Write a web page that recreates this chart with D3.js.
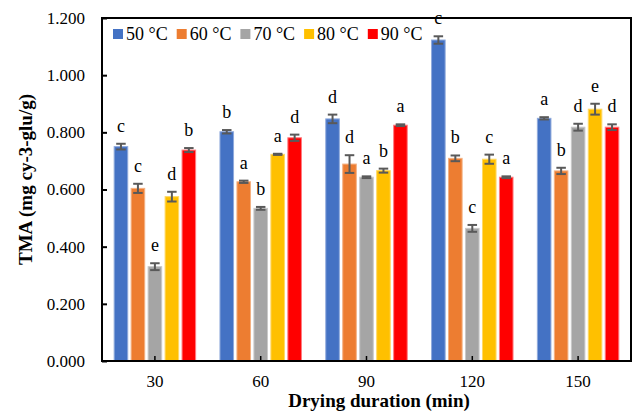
<!DOCTYPE html>
<html>
<head>
<meta charset="utf-8">
<script src="https://cdn.jsdelivr.net/npm/d3@7"></script>
<style>
  body { margin: 0; background: #fff; }
</style>
</head>
<body>
<div id="chart"></div>
<script>
// data
var durations = ["30", "60", "90", "120", "150"];
var temps = ["50 °C", "60 °C", "70 °C", "80 °C", "90 °C"];
var colors = ["#4472C4", "#ED7D31", "#A5A5A5", "#FFC000", "#FF0000"];
var borders = ["#8FAADC", "#F4B183", "#C9C9C9", "#FFD966", "#FF7C80"];

// one array per temperature, one value per duration
var tma50 = [0.750, 0.802, 0.847, 1.123, 0.849];
var tma60 = [0.604, 0.627, 0.689, 0.709, 0.665];
var tma70 = [0.330, 0.534, 0.643, 0.464, 0.818];
var tma80 = [0.575, 0.723, 0.666, 0.706, 0.881];
var tma90 = [0.738, 0.781, 0.825, 0.643, 0.818];

var err50 = [0.010, 0.006, 0.015, 0.013, 0.004];
var err60 = [0.016, 0.004, 0.031, 0.010, 0.011];
var err70 = [0.012, 0.005, 0.003, 0.012, 0.012];
var err80 = [0.017, 0.002, 0.007, 0.016, 0.019];
var err90 = [0.007, 0.011, 0.003, 0.003, 0.010];

var let50 = ["c", "b", "d", "c", "a"];
var let60 = ["c", "a", "d", "b", "b"];
var let70 = ["e", "b", "a", "c", "d"];
var let80 = ["d", "a", "b", "c", "e"];
var let90 = ["b", "d", "a", "a", "d"];

var yTicks = [0, 0.2, 0.4, 0.6, 0.8, 1.0, 1.2];

var values = [tma50, tma60, tma70, tma80, tma90];
var errors = [err50, err60, err70, err80, err90];
var letters = [let50, let60, let70, let80, let90];

var serif = "'Liberation Serif', 'Times New Roman', Times, serif";

var width = 635, height = 412;
var margin = {top: 18, right: 4, bottom: 51, left: 102};
var plotW = width - margin.left - margin.right;
var plotH = height - margin.top - margin.bottom;

var svg = d3.select("#chart").append("svg")
  .attr("width", width)
  .attr("height", height)
  .attr("font-family", serif);

var g = svg.append("g")
  .attr("transform", "translate(" + margin.left + "," + margin.top + ")");

var x0 = d3.scaleBand().domain(durations).range([0, plotW]).paddingInner(0.23).paddingOuter(0.115);
var x1 = d3.scaleBand().domain(temps).range([0, x0.bandwidth()]).paddingInner(0.2);
var y = d3.scaleLinear().domain([0, 1.2]).range([plotH, 0]);

// flatten into bar records
var bars = [];
durations.forEach(function(d, i) {
  temps.forEach(function(t, j) {
    bars.push({dur: d, temp: t, j: j, v: values[j][i], e: errors[j][i], l: letters[j][i]});
  });
});

g.append("g").selectAll("rect")
  .data(bars)
  .enter().append("rect")
  .attr("x", function(d) { return x0(d.dur) + x1(d.temp); })
  .attr("y", function(d) { return y(d.v); })
  .attr("width", x1.bandwidth())
  .attr("height", function(d) { return y(0) - y(d.v); })
  .style("fill", function(d) { return colors[d.j]; })
  .style("stroke", function(d) { return borders[d.j]; })
  .style("stroke-width", 1);

// error bars
var capW = x1.bandwidth() * 0.7;
var eb = g.append("g").selectAll("g")
  .data(bars)
  .enter().append("g")
  .attr("transform", function(d) { return "translate(" + (x0(d.dur) + x1(d.temp) + x1.bandwidth() / 2) + ",0)"; })
  .style("stroke", "#595959")
  .style("stroke-width", 2);

eb.append("line")
  .attr("y1", function(d) { return y(d.v + d.e); })
  .attr("y2", function(d) { return y(d.v - d.e); });
eb.append("line")
  .attr("x1", -capW / 2).attr("x2", capW / 2)
  .attr("y1", function(d) { return y(d.v + d.e); })
  .attr("y2", function(d) { return y(d.v + d.e); });
eb.append("line")
  .attr("x1", -capW / 2).attr("x2", capW / 2)
  .attr("y1", function(d) { return y(d.v - d.e); })
  .attr("y2", function(d) { return y(d.v - d.e); });

// significance letters
g.append("g").selectAll("text")
  .data(bars)
  .enter().append("text")
  .attr("x", function(d) { return x0(d.dur) + x1(d.temp) + x1.bandwidth() / 2; })
  .attr("y", function(d) { return y(d.v + d.e) - 12; })
  .attr("text-anchor", "middle")
  .style("font-family", serif)
  .style("font-size", "18px")
  .text(function(d) { return d.l; });

// axes
var yAxis = g.append("g")
  .call(d3.axisLeft(y).tickValues(yTicks).tickFormat(d3.format(".3f")).tickSize(-5).tickPadding(17));
yAxis.select(".domain").remove();
yAxis.selectAll("line").style("stroke", "#000").style("stroke-width", 2);
yAxis.selectAll("text").style("font-family", serif).style("font-size", "17px").style("fill", "#000");

var xAxis = g.append("g")
  .attr("transform", "translate(0," + plotH + ")")
  .call(d3.axisBottom(x0).tickSize(-5).tickPadding(14));
xAxis.select(".domain").remove();
xAxis.selectAll("line").style("stroke", "#000").style("stroke-width", 1.5);
xAxis.selectAll("text").style("font-family", serif).style("font-size", "17px").style("fill", "#000");

// plot frame
g.append("rect")
  .attr("width", plotW)
  .attr("height", plotH)
  .style("fill", "none")
  .style("stroke", "#000")
  .style("stroke-width", 2);

// axis titles
svg.append("text")
  .attr("x", 379)
  .attr("y", 407)
  .attr("text-anchor", "middle")
  .style("font-family", serif)
  .style("font-size", "19px")
  .style("font-weight", "bold")
  .text("Drying duration (min)");

svg.append("text")
  .attr("transform", "translate(32," + (margin.top + plotH / 2 - 10) + ") rotate(-90)")
  .attr("text-anchor", "middle")
  .style("font-family", serif)
  .style("font-size", "19px")
  .style("font-weight", "bold")
  .text("TMA (mg cy-3-glu/g)");

// legend
var legend = svg.append("g").selectAll("g")
  .data(temps)
  .enter().append("g")
  .attr("transform", function(d, i) { return "translate(" + (113 + i * 63.7) + ",29)"; });

legend.append("rect")
  .attr("width", 10)
  .attr("height", 10)
  .style("fill", function(d, i) { return colors[i]; });

legend.append("text")
  .attr("x", 13)
  .attr("y", 11)
  .style("font-family", serif)
  .style("font-size", "18px")
  .text(function(d) { return d; });
</script>
</body>
</html>
